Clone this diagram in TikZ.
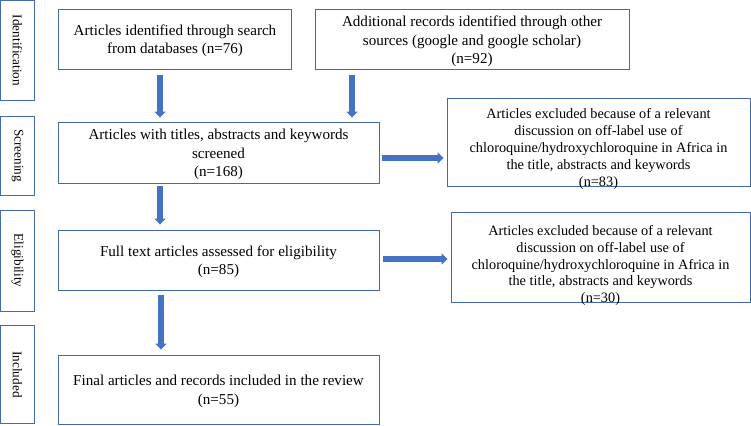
\documentclass[tikz,border=0pt]{standalone}
\usepackage{fontspec}
\setmainfont{Liberation Serif}
\usetikzlibrary{arrows.meta,calc}
\definecolor{boxblue}{RGB}{68,106,170}
\definecolor{arrblue}{RGB}{68,114,196}
\tikzset{
  box/.style={draw=boxblue, line width=0.9pt, rectangle, inner sep=0pt},
  txt/.style={align=center, font=\fontsize{15.1}{18.3}\selectfont, inner sep=0pt},
  etxt/.style={align=center, font=\fontsize{14.3}{16.9}\selectfont, inner sep=0pt},
  side/.style={align=center, font=\fontsize{13.2}{15}\selectfont, inner sep=0pt, rotate=-90},
  arr/.style={draw=arrblue, line width=6pt, -{Triangle[width=11pt,length=6pt]}},
}
\begin{document}
\begin{tikzpicture}[x=1pt,y=-1pt]
\useasboundingbox (0,0) rectangle (751,425);
% side boxes
\node[box, minimum width=34, minimum height=100] (sIdent) at (17.5,50.5) {};
\node[side] (sIdentT) at (sIdent.center) {Identification};
\node[box, minimum width=34, minimum height=79] (sScreen) at (17.5,155.5) {};
\node[side] (sScreenT) at (sScreen.center) {Screening};
\node[box, minimum width=34, minimum height=101] (sElig) at (17.5,260.5) {};
\node[side] (sEligT) at (sElig.center) {Eligibility};
\node[box, minimum width=34, minimum height=98] (sIncl) at (17.5,374.5) {};
\node[side] (sInclT) at (sIncl.center) {Included};
% main boxes
\node[box, minimum width=233, minimum height=60] (b1) at (174.5,39) {};
\node[txt] (b1t) at (175,41) {Articles identified through search\\from databases (n=76)};
\node[box, minimum width=314, minimum height=60] (b2) at (472,39) {};
\node[txt] (b2t) at (472,41.5) {Additional records identified through other\\sources (google and google scholar)\\(n=92)};
\node[box, minimum width=321, minimum height=61] (scr) at (218.5,152.5) {};
\node[txt] (scrt) at (218.5,154.5) {Articles with titles, abstracts and keywords\\screened\\(n=168)};
\node[box, minimum width=303, minimum height=88] (ex1) at (598.5,142) {};
\node[etxt] (ex1t) at (598.5,149) {Articles excluded because of a relevant\\discussion on off-label use of\\chloroquine/hydroxychloroquine in Africa in\\the title, abstracts and keywords\\(n=83)};
\node[box, minimum width=321, minimum height=60] (elig) at (218.5,260) {};
\node[txt] (eligt) at (218.5,261.5) {Full text articles assessed for eligibility\\(n=85)};
\node[box, minimum width=299, minimum height=90] (ex2) at (600.5,257) {};
\node[etxt] (ex2t) at (600.5,265.5) {Articles excluded because of a relevant\\discussion on off-label use of\\chloroquine/hydroxychloroquine in Africa in\\the title, abstracts and keywords\\(n=30)};
\node[box, minimum width=321, minimum height=69] (incl) at (218.5,389.5) {};
\node[txt] (inclt) at (218.5,391.5) {Final articles and records included in the review\\(n=55)};
% arrows
\draw[arr] ($(b1.south)+(-14.5,6)$) -- ($(b1.south|-scr.north)+(-14.5,-4)$);
\draw[arr] ($(b2.south)+(-120,6)$) -- ($(b2.south|-scr.north)+(-120,-4)$);
\draw[arr] ($(scr.south)+(-58.5,3)$) -- ($(scr.south|-elig.north)+(-58.5,-5)$);
\draw[arr] ($(elig.south)+(-57.5,5)$) -- ($(elig.south|-incl.north)+(-57.5,-5)$);
\draw[arr] ($(scr.east)+(3,5.5)$) -- ($(scr.east-|ex1.west)+(-3,5.5)$);
\draw[arr] ($(elig.east)+(4,-1)$) -- ($(elig.east-|ex2.west)+(-3,-1)$);
\end{tikzpicture}
\end{document}
